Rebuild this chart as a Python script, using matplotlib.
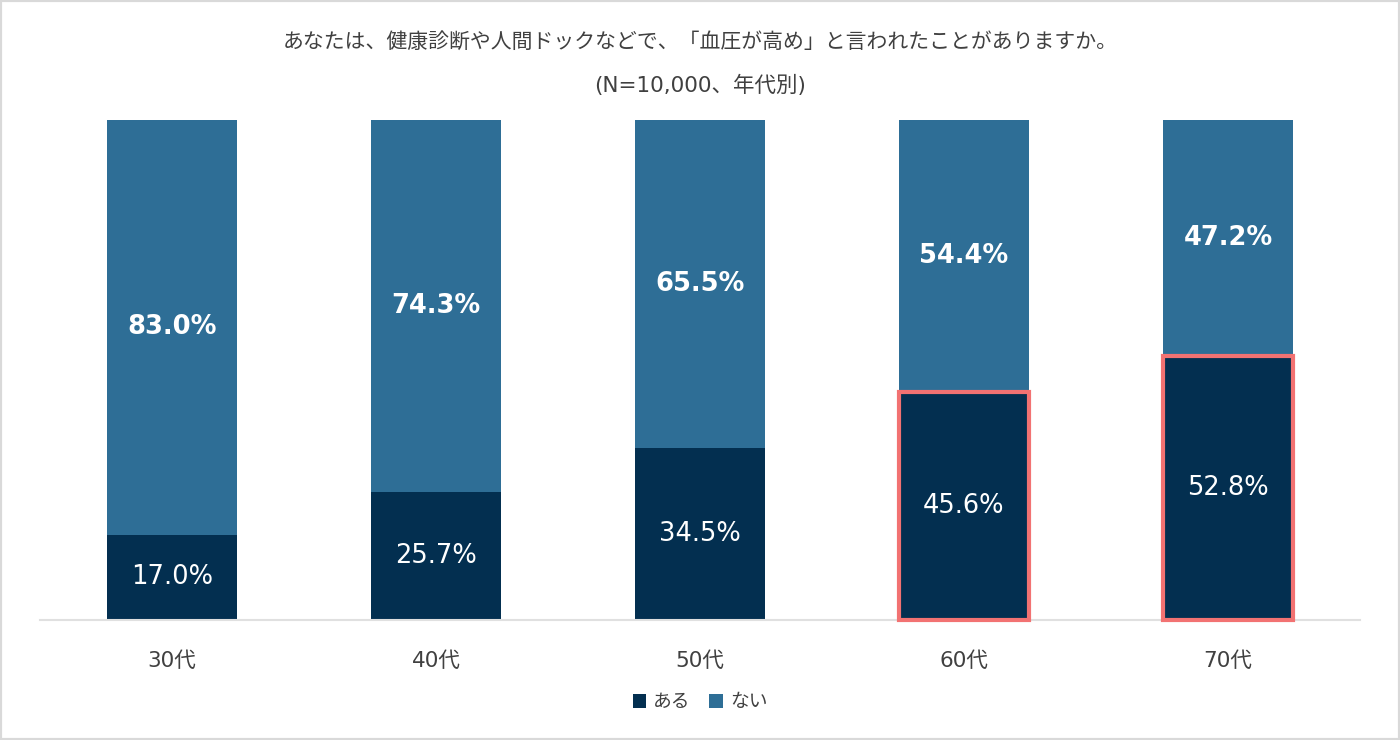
import matplotlib
matplotlib.use("Agg")
import matplotlib.pyplot as plt
from matplotlib.patches import Rectangle

plt.rcParams['font.family'] = ['DejaVu Sans', 'Noto Sans CJK JP']

categories = ["30代", "40代", "50代", "60代", "70代"]
aru = [17.0, 25.7, 34.5, 45.6, 52.8]
nai = [83.0, 74.3, 65.5, 54.4, 47.2]
highlight = [False, False, False, True, True]
title_line1 = "あなたは、健康診断や人間ドックなどで、「血圧が高め」と言われたことがありますか。"
title_line2 = "(N=10,000、年代別)"

c_aru = "#032F50"
c_nai = "#2E6E96"
c_hl = "#F27272"
jp = ['Noto Sans CJK JP', 'DejaVu Sans']
mix = ['DejaVu Sans', 'Noto Sans CJK JP']

fig = plt.figure(figsize=(14, 7.4), dpi=100)
ax = fig.add_axes([40/1400, 120/740, 1320/1400, 500/740])

x = list(range(len(categories)))
w = 0.49
b1 = ax.bar(x, aru, width=w, color=c_aru)
b2 = ax.bar(x, nai, width=w, bottom=aru, color=c_nai)

for i in x:
    if highlight[i]:
        ax.add_patch(Rectangle((i - w/2, 0), w, aru[i], fill=False,
                               edgecolor=c_hl, linewidth=3, zorder=5, clip_on=False))
    ax.text(i, aru[i]/2, f"{aru[i]:.1f}%", ha='center', va='center',
            color='white', fontsize=18.5, zorder=6)
    ax.text(i, aru[i] + nai[i]/2, f"{nai[i]:.1f}%", ha='center', va='center',
            color='white', fontsize=18.5, fontweight='bold', zorder=6)

ax.set_xlim(-0.5, len(categories) - 0.5)
ax.set_ylim(0, 100)
ax.set_yticks([])
ax.set_xticks(x)
ax.set_xticklabels(categories, fontsize=15.5, color='#404040', family=mix)
ax.tick_params(axis='x', length=0, pad=22)
for s in ['top', 'right', 'left']:
    ax.spines[s].set_visible(False)
ax.spines['bottom'].set_color('#E0E0E0')
ax.spines['bottom'].set_linewidth(1.5)

fig.text(0.5, 1 - 42/740, title_line1, ha='center', va='center', fontsize=15,
         color='#404040', family=jp)
fig.text(0.5, 1 - 85/740, title_line2, ha='center', va='center', fontsize=15.5,
         color='#404040', family=mix)

leg = fig.legend([b1, b2], ["ある", "ない"], loc='center', bbox_to_anchor=(0.5, 1 - 702/740),
                 ncol=2, frameon=False, prop={'family': jp, 'size': 13.5},
                 handlelength=0.7, handleheight=0.7, handletextpad=0.4, columnspacing=1.0)
for t in leg.get_texts():
    t.set_color('#404040')

fig.patches.append(Rectangle((0, 0), 1, 1, transform=fig.transFigure, fill=False,
                             edgecolor='#D9D9D9', linewidth=3))

fig.savefig("out.png", dpi=100)
